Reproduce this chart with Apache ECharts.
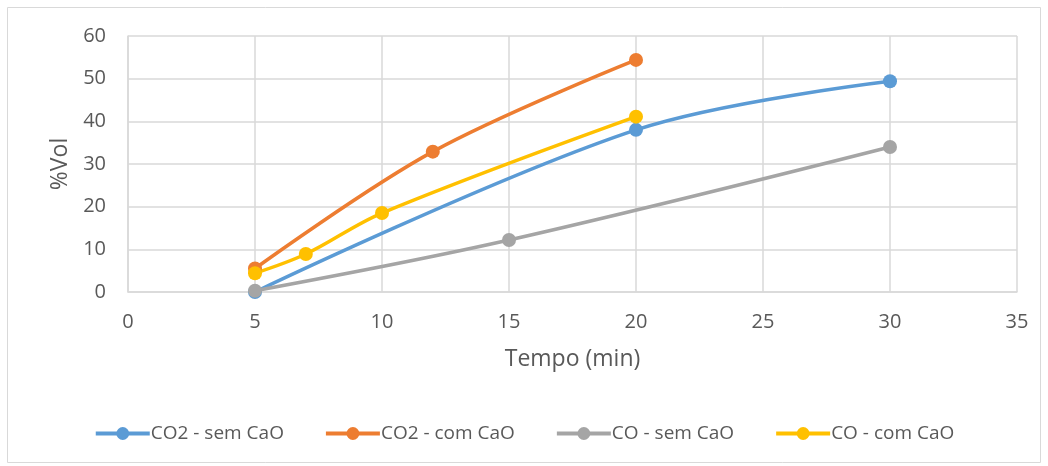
<!DOCTYPE html>
<html>
<head>
<meta charset="utf-8">
<script src="https://cdn.jsdelivr.net/npm/echarts@6/dist/echarts.min.js"></script>
<style>
  html, body { margin: 0; padding: 0; background: #fff; }
  #chart { width: 1048px; height: 466px; }
</style>
</head>
<body>
<div id="chart"></div>
<script>
// valores (tempo em min, %Vol)
const co2SemCaO = [[5, 0], [20, 38], [30, 49.4]]
const co2ComCaO = [[5, 5.5], [12, 32.9], [20, 54.4]]
const coSemCaO = [[5, 0.3], [15, 12.2], [30, 34]]
const coComCaO = [[5, 4.4], [7, 8.9], [10, 18.5], [20, 41.1]]

const seriesNames = ['CO2 - sem CaO', 'CO2 - com CaO', 'CO - sem CaO', 'CO - com CaO']
const colors = ['#5B9BD5', '#ED7D31', '#A5A5A5', '#FFC000']
const seriesData = [co2SemCaO, co2ComCaO, coSemCaO, coComCaO]

const font = 'Open Sans, sans-serif'
const chart = echarts.init(document.getElementById('chart'), null, {renderer: 'canvas'})

const makeSeries = (name, i) => ({
  name,
  type: 'line',
  data: seriesData[i],
  smooth: 0.35,
  symbol: 'circle',
  symbolSize: 14,
  lineStyle: {width: 3.5, color: colors[i]},
  itemStyle: {color: colors[i]},
})

chart.setOption({
  animation: false,
  color: colors,
  grid: {left: 128, right: 31, top: 36, bottom: 174, containLabel: false},
  graphic: [{
    type: 'rect',
    shape: {x: 7.5, y: 7.5, width: 1033, height: 455},
    style: {fill: 'none', stroke: '#D9D9D9', lineWidth: 1},
    silent: true,
  }],
  xAxis: {
    type: 'value',
    min: 0, max: 35, interval: 5,
    name: 'Tempo (min)',
    nameLocation: 'middle',
    nameGap: 56,
    nameTextStyle: {fontFamily: font, fontSize: 23, color: '#595959'},
    axisLine: {show: true, lineStyle: {color: '#D9D9D9', width: 1.5}},
    axisTick: {show: false},
    axisLabel: {fontFamily: font, fontSize: 20, color: '#595959', margin: 20},
    splitLine: {show: true, lineStyle: {color: '#D9D9D9', width: 1.5}},
  },
  yAxis: {
    type: 'value',
    min: 0, max: 60, interval: 10,
    name: '%Vol',
    nameLocation: 'middle',
    nameGap: 54,
    nameRotate: 90,
    nameTextStyle: {fontFamily: font, fontSize: 23, color: '#595959'},
    axisLine: {show: true, lineStyle: {color: '#D9D9D9', width: 1.5}},
    axisTick: {show: false},
    axisLabel: {fontFamily: font, fontSize: 20, color: '#595959', margin: 22},
    splitLine: {show: true, lineStyle: {color: '#D9D9D9', width: 1.5}},
  },
  legend: {
    bottom: 18,
    left: 'center',
    itemWidth: 54,
    itemHeight: 16,
    itemGap: 40,
    lineStyle: {width: 4},
    textStyle: {fontFamily: font, fontSize: 19, color: '#595959', padding: [0, 0, 0, -4]},
    data: seriesNames,
  },
  series: seriesNames.map(makeSeries),
})
</script>
</body>
</html>
